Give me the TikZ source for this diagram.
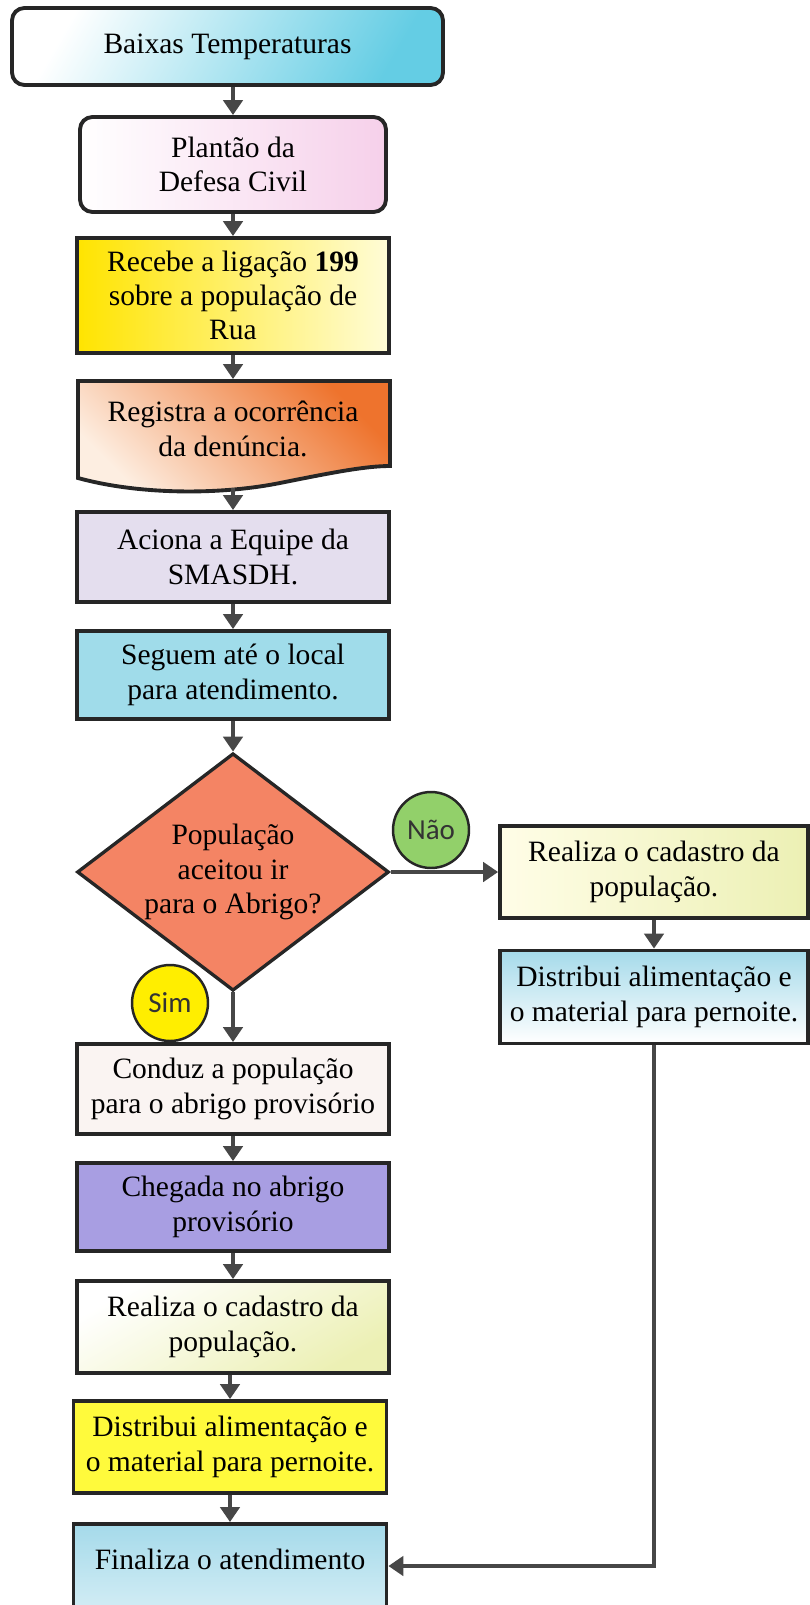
\documentclass[tikz,border=0pt]{standalone}
\usepackage{fontspec}
\setmainfont{Liberation Serif}
\newfontfamily\calibri{Carlito}
\usetikzlibrary{shapes.geometric,arrows.meta}

\definecolor{cyanbox}{RGB}{100,205,228}
\definecolor{pinkbox}{RGB}{246,208,234}
\definecolor{yellowbox}{RGB}{255,228,0}
\definecolor{paleyellow}{RGB}{255,252,215}
\definecolor{orangebox}{RGB}{238,115,45}
\definecolor{paleorange}{RGB}{253,238,225}
\definecolor{lavender}{RGB}{228,222,238}
\definecolor{cyanlight}{RGB}{160,220,234}
\definecolor{salmon}{RGB}{244,132,100}
\definecolor{greenans}{RGB}{146,208,106}
\definecolor{yellowans}{RGB}{255,238,0}
\definecolor{paleyg}{RGB}{236,240,180}
\definecolor{bluelight}{RGB}{165,218,234}
\definecolor{offwhite}{RGB}{250,244,242}
\definecolor{purplebox}{RGB}{168,158,226}
\definecolor{yellowbright}{RGB}{255,250,60}

\tikzstyle{box} = [draw=black!85, line width=2.2pt, align=center, inner sep=2pt, font=\fontsize{16.8}{19.5}\selectfont]
\tikzstyle{answer} = [circle, draw=black!85, line width=1.4pt, inner sep=0pt, minimum size=1.52cm, text=black!80, font=\calibri\fontsize{16.5}{19.5}\selectfont]
\tikzstyle{flow} = [draw=black!72, line width=2pt, -{Triangle[width=11pt,length=8.5pt]}]

\begin{document}
\begin{tikzpicture}[x=0.02cm, y=-0.02cm]
    \useasboundingbox (0,0) rectangle (810,1605);
    % Main column
    \node[box, rounded corners=7pt, top color=white, bottom color=cyanbox, shading angle=60, minimum width=8.62cm, minimum height=1.54cm] (temp) at (227.5,46.5) {Baixas Temperaturas};
    \node[box, rounded corners=7pt, left color=white, right color=pinkbox, minimum width=6.12cm, minimum height=1.9cm] (plantao) at (233,164.5) {Plant\~ao da\\Defesa Civil};
    \node[box, left color=yellowbox, right color=paleyellow, minimum width=6.24cm, minimum height=2.3cm] (recebe) at (233,295.5) {Recebe a liga\c{c}\~ao \textbf{199}\\sobre a popula\c{c}\~ao de\\Rua};
    \path[draw=black!85, line width=2.2pt, top color=orangebox, bottom color=paleorange, shading angle=-45]
      (78,381) -- (390,381) -- (390,466) .. controls (365,466) and (330,473) .. (280,483)
      .. controls (220,495) and (140,495) .. (78,478) -- cycle;
    \node[box, draw=none, minimum width=6.24cm, minimum height=1.92cm] (registra) at (233,429) {Registra a ocorr\^encia\\da den\'uncia.};
    \coordinate (registrab) at (233,488);
    \node[box, fill=lavender, minimum width=6.24cm, minimum height=1.8cm] (aciona) at (233,557) {Aciona a Equipe da\\SMASDH.};
    \node[box, fill=cyanlight, minimum width=6.24cm, minimum height=1.76cm] (seguem) at (233,675) {Seguem at\'e o local\\para atendimento.};
    \node[box, diamond, fill=salmon, line width=1.9pt, aspect=1.3, inner sep=0pt, minimum width=6.24cm, minimum height=4.75cm] (popul) at (233,872) {Popula\c{c}\~ao\\aceitou ir\\para o Abrigo?};
    \node[answer, fill=greenans] (nao) at (431,830) {N\~ao};
    \node[answer, fill=yellowans] (sim) at (170,1003) {Sim};
    \node[box, fill=offwhite, minimum width=6.24cm, minimum height=1.8cm] (conduz) at (233,1089) {Conduz a popula\c{c}\~ao\\para o abrigo provis\'orio};
    \node[box, fill=purplebox, minimum width=6.24cm, minimum height=1.76cm] (chegada) at (233,1207) {Chegada no abrigo\\provis\'orio};
    \node[box, top color=white, bottom color=paleyg, shading angle=30, minimum width=6.24cm, minimum height=1.84cm] (cadastro) at (233,1327) {Realiza o cadastro da\\popula\c{c}\~ao.};
    \node[box, fill=yellowbright, minimum width=6.26cm, minimum height=1.84cm] (distribui) at (230,1447) {Distribui alimenta\c{c}\~ao e\\o material para pernoite.};
    \node[box, anchor=north, top color=bluelight, middle color=white, bottom color=white, inner ysep=0.5cm, text depth=2cm, minimum width=6.26cm] (final) at (230,1522) {Finaliza o atendimento};
    % Right column
    \node[box, left color=white!40!paleyellow, right color=paleyg, minimum width=6.16cm, minimum height=1.84cm] (cadastroR) at (654,872) {Realiza o cadastro da\\popula\c{c}\~ao.};
    \node[box, top color=bluelight, bottom color=white, minimum width=6.16cm, minimum height=1.86cm] (distribuiR) at (654,997) {Distribui alimenta\c{c}\~ao e\\o material para pernoite.};
    \coordinate (volta) at (654,1566);
    % Edges
    \foreach \a/\b in {temp/plantao, plantao/recebe, recebe/registra, registrab/aciona, aciona/seguem, seguem/popul, popul/conduz, conduz/chegada, chegada/cadastro, cadastro/distribui, distribui/final}
      \draw[flow] (\a.south -| \b.north) -- (\b.north);
    \draw[flow] (popul.east) -- (cadastroR.west);
    \draw[flow] (cadastroR.south) -- (distribuiR.north);
    \draw[flow] (distribuiR.south) -- (volta) -- (volta -| final.east);
\end{tikzpicture}
\end{document}
